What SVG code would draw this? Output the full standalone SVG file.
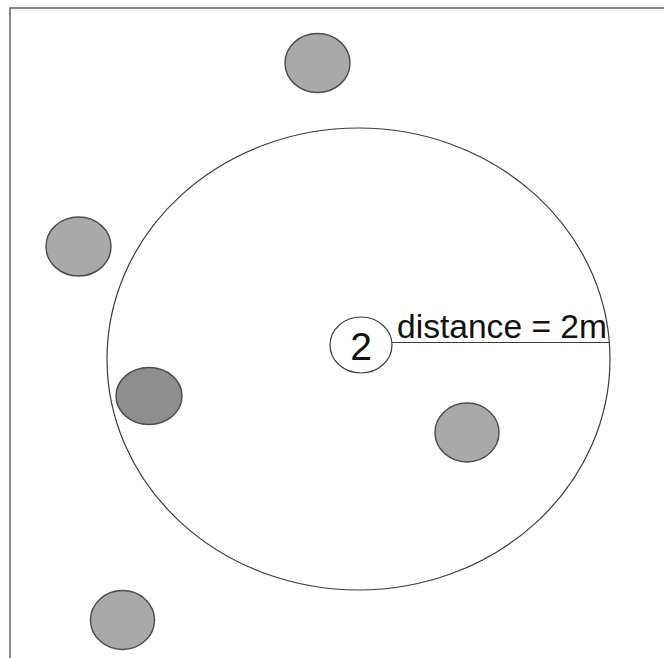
<svg xmlns="http://www.w3.org/2000/svg" width="664" height="658" viewBox="0 0 664 658">
<style>
.frame{fill:none;stroke:#6a6a6a;stroke-width:1.6}
.ring{fill:none;stroke:#3a3a3a;stroke-width:1.2}
.dot{fill:#a9a9a9;stroke:#4a4a4a;stroke-width:1.4}
.dark{fill:#8e8e8e}
.ctr{fill:#ffffff;stroke:#3a3a3a;stroke-width:1.2}
.lbl{font-family:"Liberation Sans",Arial,sans-serif;fill:#111}
.conn{stroke:#3a3a3a;stroke-width:1.2;fill:none}
</style>
<rect width="664" height="658" fill="#ffffff"/>
<rect class="frame" x="10" y="8" width="670" height="670"/>
<g id="range">
<ellipse class="ring" cx="358.5" cy="359" rx="251.5" ry="231"/>
</g>
<g id="connectors">
<line class="conn" x1="392" y1="342.5" x2="610" y2="342.5"/>
</g>
<g id="label">
<text class="lbl" x="397" y="338" font-size="33.6">distance = 2m</text>
</g>
<g id="node2">
<ellipse class="ctr" cx="361" cy="345" rx="31" ry="28"/>
<text class="lbl" x="361" y="359.5" font-size="39" text-anchor="middle">2</text>
</g>
<g id="n-top"><ellipse class="dot" cx="317.5" cy="63" rx="32.5" ry="29.5"/></g>
<g id="n-left"><ellipse class="dot" cx="78.5" cy="246.5" rx="32.5" ry="29.5"/></g>
<g id="n-midleft"><ellipse class="dot dark" cx="149" cy="396" rx="33" ry="28.5"/></g>
<g id="n-right"><ellipse class="dot" cx="467" cy="432.5" rx="32" ry="29.5"/></g>
<g id="n-bottom"><ellipse class="dot" cx="122.5" cy="620" rx="32" ry="29.5"/></g>
</svg>
